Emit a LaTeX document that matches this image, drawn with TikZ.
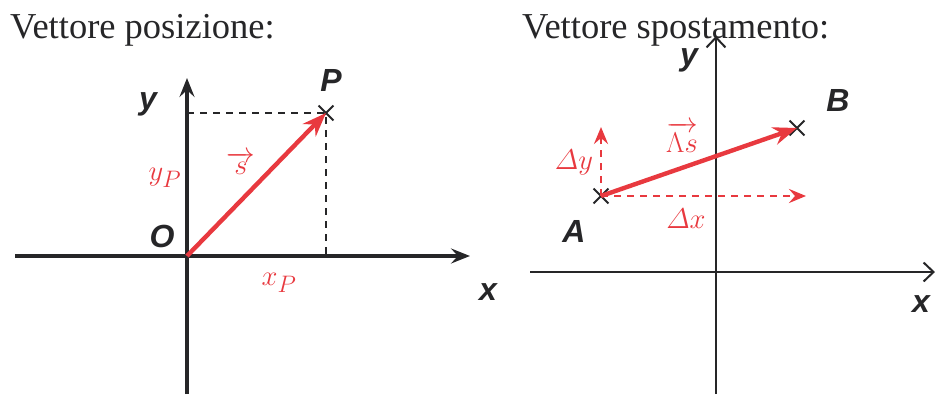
\documentclass[tikz,border=0pt]{standalone}
\usepackage{amsmath}
\usepackage{fontspec}
\setmainfont{Liberation Serif}
\newfontfamily\axisfont{Liberation Sans}
\usetikzlibrary{arrows.meta,positioning,shapes.misc}
\definecolor{ink}{HTML}{262628}
\definecolor{vec}{HTML}{E8393F}
\tikzset{axis/.style={draw=ink,line width=3.2pt,-{Stealth[length=19pt,width=15pt,inset=7pt]}},thinaxis/.style={draw=ink,line width=2pt,-{Straight Barb[length=10pt,width=19pt,line width=2pt]}},vector/.style={draw=vec,line width=4.4pt,-{Stealth[length=24pt,width=18pt,inset=8pt]}},dvector/.style={draw=vec,line width=2.8pt,dash pattern=on 7pt off 6pt,-{Stealth[length=17pt,width=14pt,inset=6pt]}},guide/.style={draw=ink,line width=2.8pt,dash pattern=on 7pt off 6pt},crossmark/.style={cross out,draw=ink,line width=1.8pt,minimum size=13pt,inner sep=0pt},title/.style={font=\fontsize{36.5}{40}\selectfont,text=ink,inner sep=0pt,anchor=base west},lab/.style={font=\axisfont\bfseries\itshape\fontsize{32}{32}\selectfont,text=ink,inner sep=0pt},redlab/.style={font=\Huge,scale=1.15,text=vec,inner sep=0pt}}
\begin{document}
\begin{tikzpicture}[x=1pt,y=-1pt]
\useasboundingbox (0,0) rectangle (935,394);
% posizione
\node[title] (tpos) at (10,38) {Vettore posizione:};
\coordinate (xl) at (15,256);
\coordinate (xr) at (470,256);
\coordinate (yb) at (187,394);
\coordinate (yt) at (187,78);
\draw[axis] (xl) -- (xr);
\draw[axis] (yb) -- (yt);
\coordinate (O) at (187,256);
\node[crossmark] (P) at (326,113) {};
\coordinate (Py) at (187,113);
\coordinate (Px) at (326,256);
\draw[guide] (Py) -- (P.center) -- (Px);
\draw[vector] (O) -- (P.center);
\node[lab] (Olab) at (162,236) {O};
\node[lab] (Plab) at (331,80) {P};
\node[lab] (ylab) at (148,104) {y};
\node[lab] (xlab) at (488,292) {x};
\node[redlab] (slab) at (241,163) {$\overrightarrow{s}$};
\node[redlab] (yPlab) at (165,178) {$y_P$};
\node[redlab] (xPlab) at (279,283) {$x_P$};
% spostamento
\node[title] (tspo) at (522,38) {Vettore spostamento:};
\coordinate (Xl) at (530,272);
\coordinate (Xr) at (935,272);
\coordinate (Yb) at (716,394);
\coordinate (Yt) at (716,36);
\draw[thinaxis] (Xl) -- (Xr);
\draw[thinaxis] (Yb) -- (Yt);
\node[crossmark] (A) at (601,196) {};
\node[crossmark] (B) at (797,128) {};
\coordinate (dy) at (601,127);
\coordinate (dx) at (806,196);
\draw[dvector] (A.center) -- (dy);
\draw[dvector] (A.center) -- (dx);
\draw[vector] (A.center) -- (B.center);
\node[lab] (Alab) at (574,231) {A};
\node[lab] (Blab) at (838,100) {B};
\node[lab] (Ylab) at (689,60) {y};
\node[lab] (Xlab) at (921,304) {x};
\node[redlab] (dslab) at (682,137) {$\overrightarrow{\Lambda s}$};
\node[redlab] (dylab) at (574,163) {$\mathnormal{\Delta}y$};
\node[redlab] (dxlab) at (686,219) {$\mathnormal{\Delta}x$};
\end{tikzpicture}
\end{document}
